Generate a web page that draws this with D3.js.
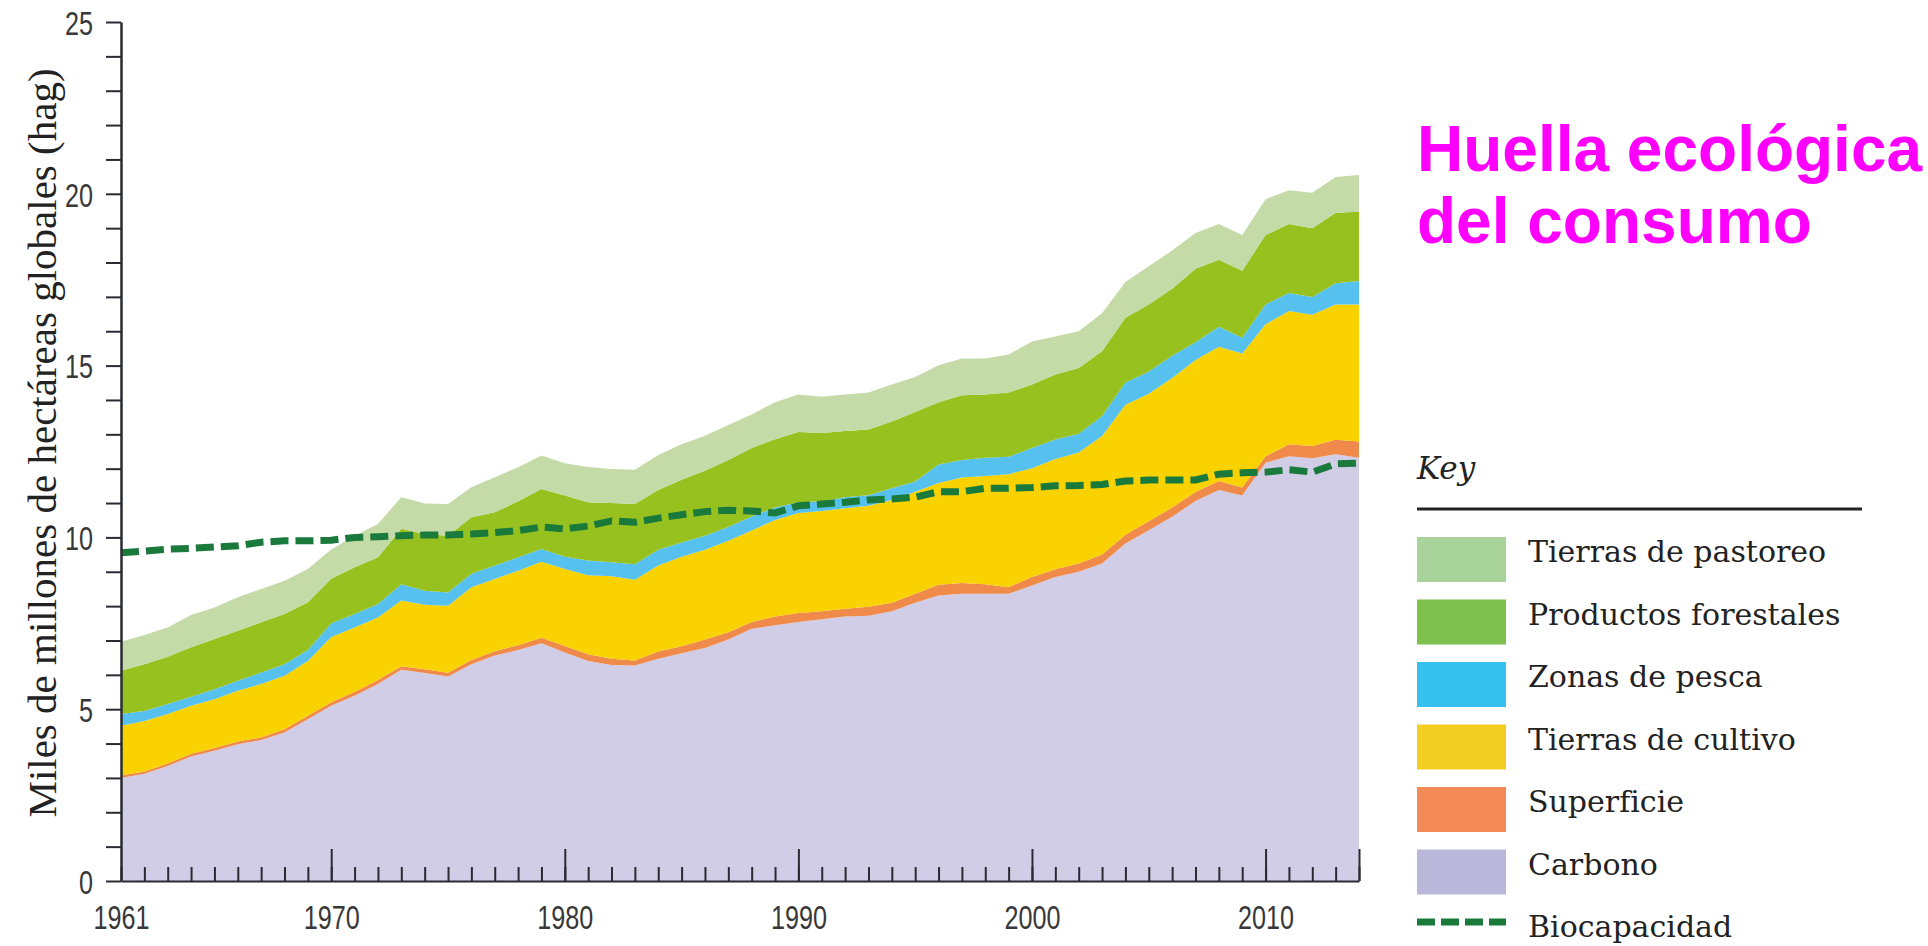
<!doctype html>
<html lang="es">
<head>
<meta charset="utf-8">
<script src="https://d3js.org/d3.v7.min.js"></script>
<style>
    html, body {
        margin: 0;
        padding: 0;
        background: #fff;
    }
    svg {
        display: block;
    }
    .tick-label text {
        font-family: "Liberation Sans Narrow", "Arial Narrow", "Liberation Sans", sans-serif;
        font-size: 34px;
        fill: #383838;
    }
</style>
</head>
<body>
<svg id="chart" width="1928" height="946"></svg>
<script>
    // years on the x axis
    var years = d3.range(1961, 2015);

    // top edge of each stacked band (miles de millones hag)
    var topCarbono = [3.0, 3.12, 3.35, 3.62, 3.79, 3.98, 4.1, 4.32, 4.71, 5.1,
        5.39, 5.73, 6.15, 6.05, 5.95, 6.31, 6.56, 6.72, 6.92, 6.65,
        6.4, 6.29, 6.27, 6.47, 6.63, 6.78, 7.03, 7.34, 7.44, 7.54,
        7.62, 7.7, 7.72, 7.85, 8.1, 8.31, 8.36, 8.36, 8.36, 8.6,
        8.85, 9.0, 9.24, 9.82, 10.21, 10.6, 11.06, 11.38, 11.22, 12.17,
        12.36, 12.3, 12.42, 12.32];
    var topSuperficie = [3.07, 3.19, 3.42, 3.7, 3.87, 4.06, 4.18, 4.42, 4.81, 5.2,
        5.5, 5.85, 6.25, 6.16, 6.06, 6.43, 6.69, 6.86, 7.08, 6.84,
        6.6, 6.47, 6.42, 6.68, 6.83, 7.03, 7.24, 7.54, 7.7, 7.8,
        7.85, 7.92, 7.98, 8.1, 8.36, 8.62, 8.67, 8.64, 8.55, 8.85,
        9.07, 9.24, 9.5, 10.08, 10.47, 10.87, 11.32, 11.64, 11.45, 12.36,
        12.71, 12.66, 12.84, 12.79];
    var topCultivo = [4.52, 4.66, 4.86, 5.1, 5.29, 5.54, 5.73, 5.97, 6.4, 7.1,
        7.38, 7.67, 8.16, 8.04, 8.01, 8.55, 8.79, 9.03, 9.29, 9.08,
        8.9, 8.87, 8.77, 9.18, 9.44, 9.64, 9.9, 10.2, 10.51, 10.71,
        10.77, 10.85, 10.92, 11.09, 11.33, 11.58, 11.74, 11.79, 11.84, 12.01,
        12.28, 12.47, 12.95, 13.86, 14.18, 14.64, 15.16, 15.55, 15.35, 16.2,
        16.59, 16.48, 16.78, 16.78];
    var topPesca = [4.86, 4.95, 5.15, 5.36, 5.58, 5.83, 6.07, 6.31, 6.72, 7.5,
        7.77, 8.06, 8.64, 8.45, 8.4, 8.94, 9.18, 9.42, 9.66, 9.44,
        9.33, 9.28, 9.22, 9.64, 9.85, 10.05, 10.3, 10.61, 10.87, 11.02,
        11.05, 11.17, 11.23, 11.43, 11.63, 12.12, 12.25, 12.32, 12.35, 12.6,
        12.85, 13.02, 13.53, 14.51, 14.83, 15.29, 15.68, 16.13, 15.81, 16.78,
        17.11, 17.0, 17.4, 17.46];
    var topForestales = [6.12, 6.31, 6.53, 6.8, 7.04, 7.28, 7.53, 7.77, 8.11, 8.8,
        9.13, 9.42, 10.25, 10.1, 10.05, 10.59, 10.73, 11.05, 11.41, 11.22,
        11.02, 11.0, 10.97, 11.38, 11.68, 11.94, 12.25, 12.6, 12.86, 13.07,
        13.04, 13.1, 13.14, 13.37, 13.65, 13.93, 14.14, 14.16, 14.22, 14.45,
        14.74, 14.93, 15.42, 16.39, 16.78, 17.24, 17.82, 18.08, 17.76, 18.8,
        19.12, 19.0, 19.45, 19.48];
    var topPastoreo = [6.96, 7.16, 7.38, 7.74, 7.96, 8.26, 8.5, 8.74, 9.08, 9.65,
        10.05, 10.39, 11.17, 10.99, 10.97, 11.46, 11.75, 12.04, 12.38, 12.16,
        12.05, 11.99, 11.97, 12.4, 12.71, 12.96, 13.27, 13.58, 13.93, 14.16,
        14.09, 14.16, 14.22, 14.45, 14.67, 15.01, 15.21, 15.21, 15.32, 15.7,
        15.85, 16.0, 16.52, 17.43, 17.89, 18.35, 18.86, 19.12, 18.8, 19.84,
        20.1, 20.03, 20.49, 20.55];
    var biocapacidad = [9.55, 9.6, 9.66, 9.68, 9.72, 9.76, 9.86, 9.9, 9.9, 9.92,
        10.0, 10.02, 10.05, 10.07, 10.07, 10.1, 10.14, 10.2, 10.3, 10.25,
        10.33, 10.48, 10.44, 10.56, 10.66, 10.75, 10.79, 10.77, 10.71, 10.92,
        10.97, 11.02, 11.09, 11.12, 11.17, 11.33, 11.33, 11.43, 11.43, 11.45,
        11.5, 11.51, 11.54, 11.64, 11.67, 11.67, 11.67, 11.84, 11.88, 11.9,
        11.97, 11.9, 12.14, 12.16];

    // legend order, top to bottom
    var categories = ["Tierras de pastoreo", "Productos forestales", "Zonas de pesca",
        "Tierras de cultivo", "Superficie", "Carbono"];
    var areaColors = ["#c5dba7", "#97c11f", "#56c1ef", "#f9d200", "#f08a4b", "#d1cde6"];
    var keyColors = ["#a8d49b", "#80c04e", "#36c1ef", "#f0cf22", "#f48a55", "#b9b7da"];
    var yTickLabels = [0, 5, 10, 15, 20, 25];
    var xTickLabels = [1961, 1970, 1980, 1990, 2000, 2010];

    var svg = d3.select("#chart");

    var x = d3.scaleLinear().domain([1961, 2014]).range([121, 1359]);
    var y = d3.scaleLinear().domain([0, 25]).range([881, 22]);

    // bands from bottom to top
    var tops = [topCarbono, topSuperficie, topCultivo, topPesca, topForestales, topPastoreo];
    var bandColors = areaColors.slice().reverse();

    var area = d3.area()
        .x(function (d) { return x(d.year); })
        .y0(function (d) { return y(d.lo); })
        .y1(function (d) { return y(d.hi); });

    tops.forEach(function (t, k) {
        var rows = years.map(function (yr, i) {
            return {year: yr, lo: k === 0 ? 0 : tops[k - 1][i], hi: t[i]};
        });
        svg.append("path")
            .datum(rows)
            .attr("d", area)
            .attr("fill", bandColors[k]);
    });

    // biocapacity, dashed
    var line = d3.line()
        .x(function (d, i) { return x(years[i]); })
        .y(function (d) { return y(d); });

    svg.append("path")
        .datum(biocapacidad)
        .attr("d", line)
        .attr("fill", "none")
        .attr("stroke", "#1a7a3b")
        .attr("stroke-width", 7)
        .attr("stroke-dasharray", "18,7");

    // condensed digits: squeeze each label to ~14px per character
    var squeeze = function (sel) {
        sel.selectAll("text").each(function () {
            var n = this.textContent.length;
            if (n) d3.select(this).attr("textLength", n * 14).attr("lengthAdjust", "spacingAndGlyphs");
        });
    };

    // x axis: yearly ticks pointing up, longer ones every decade
    var xMinor = d3.axisBottom(x).tickValues(years).tickSize(-14).tickFormat("").tickSizeOuter(0);
    var xMajor = d3.axisBottom(x).tickValues([1970, 1980, 1990, 2000, 2010, 2014])
        .tickSize(-32).tickFormat("").tickSizeOuter(0);
    var xLabels = d3.axisBottom(x).tickValues(xTickLabels).tickSize(0).tickPadding(24)
        .tickFormat(d3.format("d"));

    var gx = svg.append("g").attr("transform", "translate(0," + y(0) + ")");
    gx.append("g").call(xMinor);
    gx.append("g").call(xMajor).select(".domain").remove();
    var gxl = gx.append("g").attr("class", "tick-label").call(xLabels);
    gxl.select(".domain").remove();
    squeeze(gxl);
    gx.selectAll("line").attr("stroke", "#2a2a33").attr("stroke-width", 2);
    gx.selectAll(".domain").attr("stroke", "#2a2a33").attr("stroke-width", 2);

    // y axis: unit ticks outside, labels every 5
    var yAxis = d3.axisLeft(y).tickValues(d3.range(0, 26)).tickSize(15).tickSizeOuter(0)
        .tickPadding(13)
        .tickFormat(function (d) { return yTickLabels.indexOf(d) >= 0 ? d : ""; });

    var gy = svg.append("g")
        .attr("class", "tick-label")
        .attr("transform", "translate(" + x(1961) + ",0)")
        .call(yAxis);
    gy.selectAll("line").attr("stroke", "#2a2a33").attr("stroke-width", 2);
    gy.select(".domain").attr("stroke", "#2a2a33").attr("stroke-width", 2.5);
    gy.selectAll("text").attr("dy", "0.36em");
    squeeze(gy);

    svg.append("text")
        .attr("transform", "translate(56,443) rotate(-90)")
        .attr("text-anchor", "middle")
        .attr("font-family", "'Liberation Serif', 'Times New Roman', serif")
        .attr("font-size", 41)
        .attr("fill", "#222")
        .text("Miles de millones de hectáreas globales (hag)");

    // title
    var title = svg.append("text")
        .attr("font-family", "'Liberation Sans', Arial, sans-serif")
        .attr("font-weight", "bold")
        .attr("font-size", 64)
        .attr("fill", "#ff00ff");
    title.append("tspan").attr("x", 1417).attr("y", 171).text("Huella ecológica");
    title.append("tspan").attr("x", 1417).attr("y", 243).text("del consumo");

    // key
    var keyX = 1417, keyTop = 537, keyStep = 62.5;
    svg.append("text")
        .attr("x", keyX)
        .attr("y", 479)
        .attr("font-family", "'DejaVu Serif', serif")
        .attr("font-style", "italic")
        .attr("font-size", 31)
        .attr("fill", "#222")
        .text("Key");
    svg.append("line")
        .attr("x1", keyX).attr("x2", 1862)
        .attr("y1", 509).attr("y2", 509)
        .attr("stroke", "#222")
        .attr("stroke-width", 3);

    var rows = svg.append("g").selectAll("g")
        .data(categories.concat(["Biocapacidad"]))
        .enter().append("g")
        .attr("transform", function (d, i) { return "translate(" + keyX + "," + (keyTop + i * keyStep) + ")"; });

    rows.filter(function (d, i) { return i < categories.length; })
        .append("rect")
        .attr("width", 89)
        .attr("height", 45)
        .attr("fill", function (d, i) { return keyColors[i]; });

    rows.filter(function (d) { return d === "Biocapacidad"; })
        .append("line")
        .attr("x1", 0).attr("x2", 89)
        .attr("y1", 10).attr("y2", 10)
        .attr("stroke", "#1a7a3b")
        .attr("stroke-width", 7)
        .attr("stroke-dasharray", "18,6");

    rows.append("text")
        .attr("x", 111)
        .attr("y", 25)
        .attr("font-family", "'DejaVu Serif', serif")
        .attr("font-size", 30)
        .attr("fill", "#222")
        .text(function (d) { return d; });
</script>
</body>
</html>
